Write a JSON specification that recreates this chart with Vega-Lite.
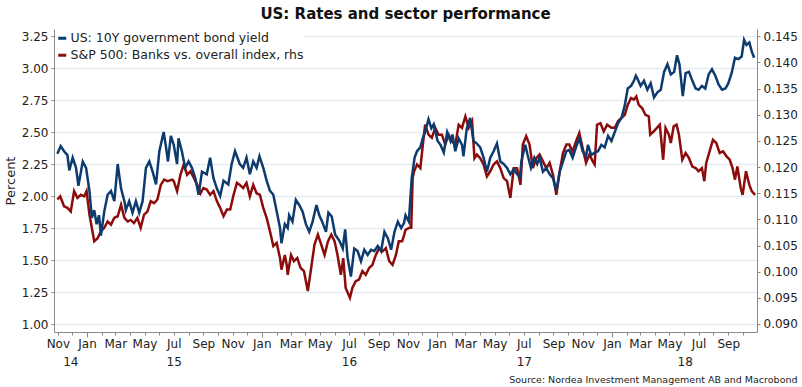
{
  "$schema": "https://vega.github.io/schema/vega-lite/v6.json",
  "width": 703,
  "height": 303,
  "autosize": {"type": "none"},
  "padding": {"left": 54, "top": 29, "right": 45, "bottom": 55},
  "background": "white",
  "config": {
    "font": "DejaVu Sans",
    "view": {"stroke": null},
    "axis": {"labelFont": "DejaVu Sans", "labelColor": "#222222", "labelFontSize": 12, "domainColor": "#8a8a8a", "tickColor": "#8a8a8a", "titleFontWeight": "normal", "titleColor": "#222222", "titleFont": "DejaVu Sans"}
  },
  "title": {"text": "US: Rates and sector performance", "fontSize": 15, "fontWeight": "bold", "color": "#111111", "offset": 7, "anchor": "middle", "font": "DejaVu Sans"},
  "datasets": {
    "us": [
      {"date": "2014-10-31", "value": 2.33}, {"date": "2014-11-07", "value": 2.39}, {"date": "2014-11-14", "value": 2.35}, {"date": "2014-11-21", "value": 2.32}, {"date": "2014-11-25", "value": 2.20},
      {"date": "2014-12-02", "value": 2.30}, {"date": "2014-12-09", "value": 2.22}, {"date": "2014-12-14", "value": 2.08}, {"date": "2014-12-23", "value": 2.27}, {"date": "2014-12-30", "value": 2.22},
      {"date": "2015-01-06", "value": 2.04}, {"date": "2015-01-11", "value": 1.83}, {"date": "2015-01-16", "value": 1.89}, {"date": "2015-01-21", "value": 1.78}, {"date": "2015-01-26", "value": 1.85},
      {"date": "2015-01-30", "value": 1.69}, {"date": "2015-02-06", "value": 1.88}, {"date": "2015-02-13", "value": 2.01}, {"date": "2015-02-20", "value": 2.04}, {"date": "2015-02-27", "value": 1.96},
      {"date": "2015-03-06", "value": 2.25}, {"date": "2015-03-13", "value": 2.06}, {"date": "2015-03-20", "value": 1.96}, {"date": "2015-03-23", "value": 1.89}, {"date": "2015-03-30", "value": 1.96},
      {"date": "2015-04-06", "value": 1.87}, {"date": "2015-04-13", "value": 1.96}, {"date": "2015-04-20", "value": 1.87}, {"date": "2015-04-27", "value": 1.96}, {"date": "2015-05-04", "value": 2.22},
      {"date": "2015-05-11", "value": 2.27}, {"date": "2015-05-18", "value": 2.19}, {"date": "2015-05-25", "value": 2.09}, {"date": "2015-06-01", "value": 2.35}, {"date": "2015-06-10", "value": 2.50},
      {"date": "2015-06-15", "value": 2.38}, {"date": "2015-06-19", "value": 2.27}, {"date": "2015-06-25", "value": 2.47}, {"date": "2015-07-01", "value": 2.40}, {"date": "2015-07-08", "value": 2.25},
      {"date": "2015-07-11", "value": 2.45}, {"date": "2015-07-18", "value": 2.35}, {"date": "2015-07-25", "value": 2.22}, {"date": "2015-08-01", "value": 2.27}, {"date": "2015-08-08", "value": 2.22},
      {"date": "2015-08-15", "value": 2.14}, {"date": "2015-08-22", "value": 2.01}, {"date": "2015-08-29", "value": 2.19}, {"date": "2015-09-08", "value": 2.17}, {"date": "2015-09-15", "value": 2.30},
      {"date": "2015-09-22", "value": 2.14}, {"date": "2015-09-29", "value": 2.06}, {"date": "2015-10-06", "value": 2.00}, {"date": "2015-10-13", "value": 2.12}, {"date": "2015-10-23", "value": 2.09},
      {"date": "2015-10-30", "value": 2.25}, {"date": "2015-11-06", "value": 2.35}, {"date": "2015-11-16", "value": 2.25}, {"date": "2015-11-23", "value": 2.22}, {"date": "2015-11-30", "value": 2.30},
      {"date": "2015-12-07", "value": 2.17}, {"date": "2015-12-14", "value": 2.27}, {"date": "2015-12-21", "value": 2.22}, {"date": "2015-12-27", "value": 2.31}, {"date": "2016-01-04", "value": 2.22},
      {"date": "2016-01-11", "value": 2.12}, {"date": "2016-01-18", "value": 2.04}, {"date": "2016-01-25", "value": 2.01}, {"date": "2016-02-01", "value": 1.88}, {"date": "2016-02-08", "value": 1.75},
      {"date": "2016-02-11", "value": 1.63}, {"date": "2016-02-18", "value": 1.78}, {"date": "2016-02-24", "value": 1.75}, {"date": "2016-02-27", "value": 1.85}, {"date": "2016-03-05", "value": 1.80},
      {"date": "2016-03-12", "value": 1.97}, {"date": "2016-03-19", "value": 1.93}, {"date": "2016-03-26", "value": 1.88}, {"date": "2016-04-02", "value": 1.78}, {"date": "2016-04-09", "value": 1.72},
      {"date": "2016-04-16", "value": 1.80}, {"date": "2016-04-24", "value": 1.93}, {"date": "2016-04-30", "value": 1.85}, {"date": "2016-05-06", "value": 1.80}, {"date": "2016-05-14", "value": 1.72},
      {"date": "2016-05-19", "value": 1.87}, {"date": "2016-05-26", "value": 1.84}, {"date": "2016-06-02", "value": 1.70}, {"date": "2016-06-11", "value": 1.65}, {"date": "2016-06-18", "value": 1.59},
      {"date": "2016-06-23", "value": 1.74}, {"date": "2016-06-28", "value": 1.52}, {"date": "2016-07-05", "value": 1.37}, {"date": "2016-07-12", "value": 1.59}, {"date": "2016-07-19", "value": 1.57},
      {"date": "2016-07-26", "value": 1.49}, {"date": "2016-08-02", "value": 1.58}, {"date": "2016-08-09", "value": 1.54}, {"date": "2016-08-16", "value": 1.58}, {"date": "2016-08-23", "value": 1.57},
      {"date": "2016-08-30", "value": 1.61}, {"date": "2016-09-06", "value": 1.57}, {"date": "2016-09-13", "value": 1.72}, {"date": "2016-09-20", "value": 1.67}, {"date": "2016-09-27", "value": 1.58},
      {"date": "2016-10-04", "value": 1.72}, {"date": "2016-10-11", "value": 1.80}, {"date": "2016-10-18", "value": 1.75}, {"date": "2016-10-24", "value": 1.79}, {"date": "2016-10-27", "value": 1.85},
      {"date": "2016-11-03", "value": 1.80}, {"date": "2016-11-09", "value": 2.14}, {"date": "2016-11-15", "value": 2.30}, {"date": "2016-11-20", "value": 2.35}, {"date": "2016-11-27", "value": 2.38},
      {"date": "2016-12-02", "value": 2.45}, {"date": "2016-12-07", "value": 2.50}, {"date": "2016-12-14", "value": 2.60}, {"date": "2016-12-20", "value": 2.53}, {"date": "2016-12-25", "value": 2.56},
      {"date": "2017-01-02", "value": 2.43}, {"date": "2017-01-08", "value": 2.40}, {"date": "2017-01-15", "value": 2.34}, {"date": "2017-01-22", "value": 2.50}, {"date": "2017-01-29", "value": 2.43},
      {"date": "2017-02-02", "value": 2.48}, {"date": "2017-02-08", "value": 2.35}, {"date": "2017-02-15", "value": 2.45}, {"date": "2017-02-22", "value": 2.40}, {"date": "2017-02-25", "value": 2.31},
      {"date": "2017-03-04", "value": 2.53}, {"date": "2017-03-11", "value": 2.61}, {"date": "2017-03-18", "value": 2.43}, {"date": "2017-03-25", "value": 2.41}, {"date": "2017-04-01", "value": 2.38},
      {"date": "2017-04-08", "value": 2.30}, {"date": "2017-04-15", "value": 2.19}, {"date": "2017-04-22", "value": 2.30}, {"date": "2017-04-29", "value": 2.35}, {"date": "2017-05-06", "value": 2.41},
      {"date": "2017-05-13", "value": 2.27}, {"date": "2017-05-20", "value": 2.25}, {"date": "2017-05-27", "value": 2.22}, {"date": "2017-06-03", "value": 2.17}, {"date": "2017-06-10", "value": 2.21},
      {"date": "2017-06-17", "value": 2.17}, {"date": "2017-06-23", "value": 2.15}, {"date": "2017-06-26", "value": 2.27}, {"date": "2017-07-04", "value": 2.40}, {"date": "2017-07-09", "value": 2.32},
      {"date": "2017-07-16", "value": 2.22}, {"date": "2017-07-23", "value": 2.30}, {"date": "2017-07-29", "value": 2.25}, {"date": "2017-08-03", "value": 2.30}, {"date": "2017-08-10", "value": 2.19},
      {"date": "2017-08-17", "value": 2.22}, {"date": "2017-08-24", "value": 2.17}, {"date": "2017-08-31", "value": 2.14}, {"date": "2017-09-07", "value": 2.04}, {"date": "2017-09-14", "value": 2.19},
      {"date": "2017-09-21", "value": 2.27}, {"date": "2017-09-28", "value": 2.35}, {"date": "2017-10-04", "value": 2.36}, {"date": "2017-10-11", "value": 2.30}, {"date": "2017-10-18", "value": 2.38},
      {"date": "2017-10-25", "value": 2.45}, {"date": "2017-11-01", "value": 2.35}, {"date": "2017-11-08", "value": 2.31}, {"date": "2017-11-12", "value": 2.40}, {"date": "2017-11-19", "value": 2.32},
      {"date": "2017-11-26", "value": 2.34}, {"date": "2017-12-03", "value": 2.35}, {"date": "2017-12-10", "value": 2.40}, {"date": "2017-12-17", "value": 2.38}, {"date": "2017-12-24", "value": 2.47},
      {"date": "2017-12-31", "value": 2.43}, {"date": "2018-01-07", "value": 2.50}, {"date": "2018-01-14", "value": 2.57}, {"date": "2018-01-21", "value": 2.61}, {"date": "2018-01-28", "value": 2.71},
      {"date": "2018-02-03", "value": 2.84}, {"date": "2018-02-10", "value": 2.86}, {"date": "2018-02-16", "value": 2.90}, {"date": "2018-02-20", "value": 2.94}, {"date": "2018-02-23", "value": 2.92},
      {"date": "2018-03-02", "value": 2.86}, {"date": "2018-03-09", "value": 2.90}, {"date": "2018-03-16", "value": 2.83}, {"date": "2018-03-23", "value": 2.88}, {"date": "2018-03-30", "value": 2.77},
      {"date": "2018-04-06", "value": 2.81}, {"date": "2018-04-13", "value": 2.83}, {"date": "2018-04-20", "value": 2.97}, {"date": "2018-04-27", "value": 3.03}, {"date": "2018-05-04", "value": 2.95},
      {"date": "2018-05-11", "value": 2.97}, {"date": "2018-05-17", "value": 3.10}, {"date": "2018-05-22", "value": 3.03}, {"date": "2018-05-29", "value": 2.78}, {"date": "2018-06-04", "value": 2.96},
      {"date": "2018-06-11", "value": 2.97}, {"date": "2018-06-18", "value": 2.90}, {"date": "2018-06-25", "value": 2.84}, {"date": "2018-07-01", "value": 2.83}, {"date": "2018-07-08", "value": 2.86},
      {"date": "2018-07-15", "value": 2.84}, {"date": "2018-07-22", "value": 2.95}, {"date": "2018-07-29", "value": 2.99}, {"date": "2018-08-05", "value": 2.94}, {"date": "2018-08-12", "value": 2.87},
      {"date": "2018-08-19", "value": 2.83}, {"date": "2018-08-26", "value": 2.84}, {"date": "2018-09-01", "value": 2.88}, {"date": "2018-09-08", "value": 2.96}, {"date": "2018-09-15", "value": 3.08},
      {"date": "2018-09-22", "value": 3.07}, {"date": "2018-09-29", "value": 3.09}, {"date": "2018-10-04", "value": 3.22}, {"date": "2018-10-09", "value": 3.18}, {"date": "2018-10-15", "value": 3.20},
      {"date": "2018-10-20", "value": 3.13}, {"date": "2018-10-25", "value": 3.08}
    ],
    "banks": [
      {"date": "2014-10-31", "value": 0.1138}, {"date": "2014-11-06", "value": 0.1144}, {"date": "2014-11-14", "value": 0.1125}, {"date": "2014-11-21", "value": 0.1122}, {"date": "2014-11-28", "value": 0.1115},
      {"date": "2014-12-05", "value": 0.1154}, {"date": "2014-12-12", "value": 0.1141}, {"date": "2014-12-19", "value": 0.1147}, {"date": "2014-12-26", "value": 0.1144}, {"date": "2014-12-31", "value": 0.1154},
      {"date": "2015-01-06", "value": 0.1109}, {"date": "2015-01-11", "value": 0.1084}, {"date": "2015-01-16", "value": 0.1058}, {"date": "2015-01-23", "value": 0.1064}, {"date": "2015-01-30", "value": 0.1077},
      {"date": "2015-02-06", "value": 0.1084}, {"date": "2015-02-13", "value": 0.1096}, {"date": "2015-02-20", "value": 0.1090}, {"date": "2015-02-27", "value": 0.1103}, {"date": "2015-03-06", "value": 0.1106},
      {"date": "2015-03-13", "value": 0.1128}, {"date": "2015-03-20", "value": 0.1103}, {"date": "2015-03-27", "value": 0.1096}, {"date": "2015-04-02", "value": 0.1099}, {"date": "2015-04-09", "value": 0.1093},
      {"date": "2015-04-16", "value": 0.1103}, {"date": "2015-04-23", "value": 0.1084}, {"date": "2015-04-30", "value": 0.1109}, {"date": "2015-05-07", "value": 0.1115}, {"date": "2015-05-14", "value": 0.1135},
      {"date": "2015-05-21", "value": 0.1131}, {"date": "2015-05-28", "value": 0.1138}, {"date": "2015-06-04", "value": 0.1166}, {"date": "2015-06-11", "value": 0.1176}, {"date": "2015-06-18", "value": 0.1173},
      {"date": "2015-06-28", "value": 0.1176}, {"date": "2015-07-01", "value": 0.1173}, {"date": "2015-07-08", "value": 0.1154}, {"date": "2015-07-15", "value": 0.1185}, {"date": "2015-07-22", "value": 0.1205},
      {"date": "2015-07-29", "value": 0.1185}, {"date": "2015-08-05", "value": 0.1192}, {"date": "2015-08-12", "value": 0.1179}, {"date": "2015-08-19", "value": 0.1166}, {"date": "2015-08-26", "value": 0.1150},
      {"date": "2015-09-01", "value": 0.1160}, {"date": "2015-09-08", "value": 0.1157}, {"date": "2015-09-15", "value": 0.1147}, {"date": "2015-09-22", "value": 0.1154}, {"date": "2015-09-29", "value": 0.1135},
      {"date": "2015-10-06", "value": 0.1122}, {"date": "2015-10-13", "value": 0.1106}, {"date": "2015-10-20", "value": 0.1119}, {"date": "2015-10-27", "value": 0.1119}, {"date": "2015-11-03", "value": 0.1147},
      {"date": "2015-11-10", "value": 0.1170}, {"date": "2015-11-16", "value": 0.1166}, {"date": "2015-11-23", "value": 0.1160}, {"date": "2015-11-30", "value": 0.1170}, {"date": "2015-12-07", "value": 0.1144},
      {"date": "2015-12-14", "value": 0.1166}, {"date": "2015-12-21", "value": 0.1150}, {"date": "2015-12-28", "value": 0.1147}, {"date": "2016-01-04", "value": 0.1122}, {"date": "2016-01-11", "value": 0.1103},
      {"date": "2016-01-18", "value": 0.1077}, {"date": "2016-01-25", "value": 0.1049}, {"date": "2016-02-01", "value": 0.1055}, {"date": "2016-02-08", "value": 0.1026}, {"date": "2016-02-11", "value": 0.1004},
      {"date": "2016-02-18", "value": 0.1032}, {"date": "2016-02-22", "value": 0.1013}, {"date": "2016-02-24", "value": 0.0994}, {"date": "2016-03-02", "value": 0.1032}, {"date": "2016-03-08", "value": 0.1020},
      {"date": "2016-03-15", "value": 0.1026}, {"date": "2016-03-22", "value": 0.1007}, {"date": "2016-03-29", "value": 0.1001}, {"date": "2016-04-06", "value": 0.0963}, {"date": "2016-04-13", "value": 0.1007},
      {"date": "2016-04-20", "value": 0.1052}, {"date": "2016-04-27", "value": 0.1071}, {"date": "2016-05-04", "value": 0.1052}, {"date": "2016-05-11", "value": 0.1032}, {"date": "2016-05-18", "value": 0.1058},
      {"date": "2016-05-25", "value": 0.1071}, {"date": "2016-06-01", "value": 0.1058}, {"date": "2016-06-07", "value": 0.1032}, {"date": "2016-06-14", "value": 0.0994}, {"date": "2016-06-19", "value": 0.1026},
      {"date": "2016-06-24", "value": 0.0969}, {"date": "2016-07-03", "value": 0.0950}, {"date": "2016-07-08", "value": 0.0969}, {"date": "2016-07-15", "value": 0.0982}, {"date": "2016-07-22", "value": 0.0985},
      {"date": "2016-07-29", "value": 0.1001}, {"date": "2016-08-05", "value": 0.0994}, {"date": "2016-08-12", "value": 0.1007}, {"date": "2016-08-19", "value": 0.1013}, {"date": "2016-08-26", "value": 0.1032},
      {"date": "2016-09-02", "value": 0.1045}, {"date": "2016-09-09", "value": 0.1039}, {"date": "2016-09-16", "value": 0.1045}, {"date": "2016-09-23", "value": 0.1020}, {"date": "2016-09-30", "value": 0.1013},
      {"date": "2016-10-07", "value": 0.1032}, {"date": "2016-10-13", "value": 0.1058}, {"date": "2016-10-20", "value": 0.1058}, {"date": "2016-10-24", "value": 0.1070}, {"date": "2016-10-27", "value": 0.1080},
      {"date": "2016-11-04", "value": 0.1084}, {"date": "2016-11-08", "value": 0.1084}, {"date": "2016-11-11", "value": 0.1180}, {"date": "2016-11-14", "value": 0.1192}, {"date": "2016-11-20", "value": 0.1205},
      {"date": "2016-11-27", "value": 0.1198}, {"date": "2016-12-03", "value": 0.1249}, {"date": "2016-12-07", "value": 0.1281}, {"date": "2016-12-14", "value": 0.1262}, {"date": "2016-12-21", "value": 0.1256},
      {"date": "2016-12-28", "value": 0.1275}, {"date": "2017-01-04", "value": 0.1262}, {"date": "2017-01-11", "value": 0.1262}, {"date": "2017-01-18", "value": 0.1243}, {"date": "2017-01-25", "value": 0.1262},
      {"date": "2017-02-01", "value": 0.1249}, {"date": "2017-02-08", "value": 0.1243}, {"date": "2017-02-15", "value": 0.1281}, {"date": "2017-02-22", "value": 0.1275}, {"date": "2017-03-01", "value": 0.1297},
      {"date": "2017-03-08", "value": 0.1275}, {"date": "2017-03-15", "value": 0.1288}, {"date": "2017-03-20", "value": 0.1217}, {"date": "2017-03-25", "value": 0.1224}, {"date": "2017-04-01", "value": 0.1217},
      {"date": "2017-04-08", "value": 0.1205}, {"date": "2017-04-15", "value": 0.1182}, {"date": "2017-04-22", "value": 0.1192}, {"date": "2017-04-29", "value": 0.1205}, {"date": "2017-05-06", "value": 0.1211},
      {"date": "2017-05-13", "value": 0.1198}, {"date": "2017-05-20", "value": 0.1179}, {"date": "2017-05-27", "value": 0.1173}, {"date": "2017-06-03", "value": 0.1141}, {"date": "2017-06-10", "value": 0.1198},
      {"date": "2017-06-17", "value": 0.1198}, {"date": "2017-06-22", "value": 0.1176}, {"date": "2017-06-24", "value": 0.1166}, {"date": "2017-06-29", "value": 0.1243}, {"date": "2017-07-06", "value": 0.1259},
      {"date": "2017-07-13", "value": 0.1243}, {"date": "2017-07-20", "value": 0.1198}, {"date": "2017-07-27", "value": 0.1217}, {"date": "2017-08-03", "value": 0.1224}, {"date": "2017-08-10", "value": 0.1211},
      {"date": "2017-08-17", "value": 0.1198}, {"date": "2017-08-24", "value": 0.1208}, {"date": "2017-08-31", "value": 0.1185}, {"date": "2017-09-07", "value": 0.1147}, {"date": "2017-09-14", "value": 0.1192},
      {"date": "2017-09-21", "value": 0.1227}, {"date": "2017-09-28", "value": 0.1243}, {"date": "2017-10-04", "value": 0.1243}, {"date": "2017-10-11", "value": 0.1230}, {"date": "2017-10-18", "value": 0.1249},
      {"date": "2017-10-25", "value": 0.1265}, {"date": "2017-11-01", "value": 0.1236}, {"date": "2017-11-08", "value": 0.1208}, {"date": "2017-11-15", "value": 0.1224}, {"date": "2017-11-22", "value": 0.1211},
      {"date": "2017-11-26", "value": 0.1205}, {"date": "2017-12-01", "value": 0.1281}, {"date": "2017-12-08", "value": 0.1284}, {"date": "2017-12-15", "value": 0.1268}, {"date": "2017-12-22", "value": 0.1281},
      {"date": "2017-12-31", "value": 0.1275}, {"date": "2018-01-07", "value": 0.1275}, {"date": "2018-01-14", "value": 0.1288}, {"date": "2018-01-21", "value": 0.1294}, {"date": "2018-01-28", "value": 0.1300},
      {"date": "2018-02-03", "value": 0.1319}, {"date": "2018-02-10", "value": 0.1332}, {"date": "2018-02-16", "value": 0.1329}, {"date": "2018-02-21", "value": 0.1335}, {"date": "2018-02-26", "value": 0.1319},
      {"date": "2018-03-05", "value": 0.1313}, {"date": "2018-03-12", "value": 0.1300}, {"date": "2018-03-19", "value": 0.1297}, {"date": "2018-03-22", "value": 0.1262}, {"date": "2018-03-29", "value": 0.1268},
      {"date": "2018-04-05", "value": 0.1275}, {"date": "2018-04-11", "value": 0.1281}, {"date": "2018-04-18", "value": 0.1214}, {"date": "2018-04-23", "value": 0.1275}, {"date": "2018-04-30", "value": 0.1262},
      {"date": "2018-05-04", "value": 0.1246}, {"date": "2018-05-10", "value": 0.1278}, {"date": "2018-05-16", "value": 0.1281}, {"date": "2018-05-21", "value": 0.1262}, {"date": "2018-05-28", "value": 0.1214},
      {"date": "2018-06-04", "value": 0.1227}, {"date": "2018-06-11", "value": 0.1217}, {"date": "2018-06-18", "value": 0.1201}, {"date": "2018-06-25", "value": 0.1198}, {"date": "2018-07-01", "value": 0.1192},
      {"date": "2018-07-08", "value": 0.1198}, {"date": "2018-07-13", "value": 0.1173}, {"date": "2018-07-17", "value": 0.1208}, {"date": "2018-07-24", "value": 0.1230}, {"date": "2018-07-31", "value": 0.1252},
      {"date": "2018-08-07", "value": 0.1246}, {"date": "2018-08-14", "value": 0.1227}, {"date": "2018-08-21", "value": 0.1230}, {"date": "2018-08-28", "value": 0.1221}, {"date": "2018-09-04", "value": 0.1214},
      {"date": "2018-09-10", "value": 0.1198}, {"date": "2018-09-15", "value": 0.1176}, {"date": "2018-09-20", "value": 0.1201}, {"date": "2018-09-27", "value": 0.1160}, {"date": "2018-10-01", "value": 0.1147},
      {"date": "2018-10-08", "value": 0.1192}, {"date": "2018-10-15", "value": 0.1166}, {"date": "2018-10-20", "value": 0.1154}, {"date": "2018-10-27", "value": 0.1147}
    ]
  },
  "layer": [
    {
      "data": {"name": "banks"},
      "mark": {"type": "line", "strokeWidth": 2.5},
      "encoding": {
        "x": {
          "field": "date", "type": "temporal",
          "axis": {
            "orient": "bottom",
            "title": "Source: Nordea Investment Management AB and Macrobond",
            "values": [{"year": 2014, "month": 11, "date": 27}, {"year": 2015, "month": 7, "date": 1}, {"year": 2016, "month": 7, "date": 1}, {"year": 2017, "month": 7, "date": 1}, {"year": 2018, "month": 6, "date": 2}],
            "labelExpr": "timeFormat(datum.value, '%y')",
            "ticks": false, "domain": false, "grid": false,
            "labelPadding": 24, "labelFontSize": 12, "labelOverlap": false, "labelFlush": false,
            "titleFontSize": 9.5, "titleX": 743, "titleY": 47, "titleAlign": "right", "titleBaseline": "middle", "titleAnchor": null
          }
        },
        "y": {
          "field": "value", "type": "quantitative",
          "scale": {"domain": [0.08847, 0.1464], "nice": false, "zero": false},
          "axis": {"orient": "right", "title": null, "values": [0.09, 0.095, 0.1, 0.105, 0.11, 0.115, 0.12, 0.125, 0.13, 0.135, 0.14, 0.145], "format": ".3f", "grid": false, "tickSize": 3, "labelPadding": 3}
        },
        "color": {
          "datum": "S&P 500: Banks vs. overall index, rhs",
          "scale": {"domain": ["US: 10Y government bond yield", "S&P 500: Banks vs. overall index, rhs"], "range": ["#0d3b6e", "#8c0b0b"]},
          "legend": {"orient": "none", "legendX": 2, "legendY": 3, "title": null, "symbolType": "stroke", "symbolStrokeWidth": 3, "symbolSize": 64, "labelFontSize": 12.5, "labelColor": "#222222", "rowPadding": 4, "labelOffset": 2, "padding": 0, "labelLimit": 400, "fillColor": "white"}
        }
      }
    },
    {
      "data": {"name": "us"},
      "mark": {"type": "line", "strokeWidth": 2.5},
      "encoding": {
        "x": {
          "field": "date", "type": "temporal",
          "scale": {"domain": [{"year": 2014, "month": 10, "date": 24}, {"year": 2018, "month": 10, "date": 31}]},
          "axis": {
            "orient": "bottom",
            "title": null,
            "tickCount": {"interval": "month", "step": 1},
            "labelExpr": "month(datum.value) % 2 == 0 ? timeFormat(datum.value, '%b') : ''",
            "labelOverlap": false, "labelFlush": false, "grid": false,
            "tickSize": {"condition": {"test": "month(datum.value) == 0", "value": 5}, "value": 3},
            "labelPadding": {"condition": {"test": "month(datum.value) == 0", "value": 1}, "value": 3},
            "labelFontSize": 12
          }
        },
        "y": {
          "field": "value", "type": "quantitative",
          "scale": {"domain": [0.9375, 3.305], "nice": false, "zero": false},
          "axis": {"title": "Percent", "values": [1, 1.25, 1.5, 1.75, 2, 2.25, 2.5, 2.75, 3, 3.25], "format": ".2f", "grid": true, "gridColor": "#e4ebf1", "gridWidth": 1.5, "tickSize": 3, "labelPadding": 3, "titleFontSize": 13, "titlePadding": 4}
        },
        "color": {"datum": "US: 10Y government bond yield"}
      }
    }
  ],
  "resolve": {"scale": {"y": "independent"}, "axis": {"x": "independent"}}
}
